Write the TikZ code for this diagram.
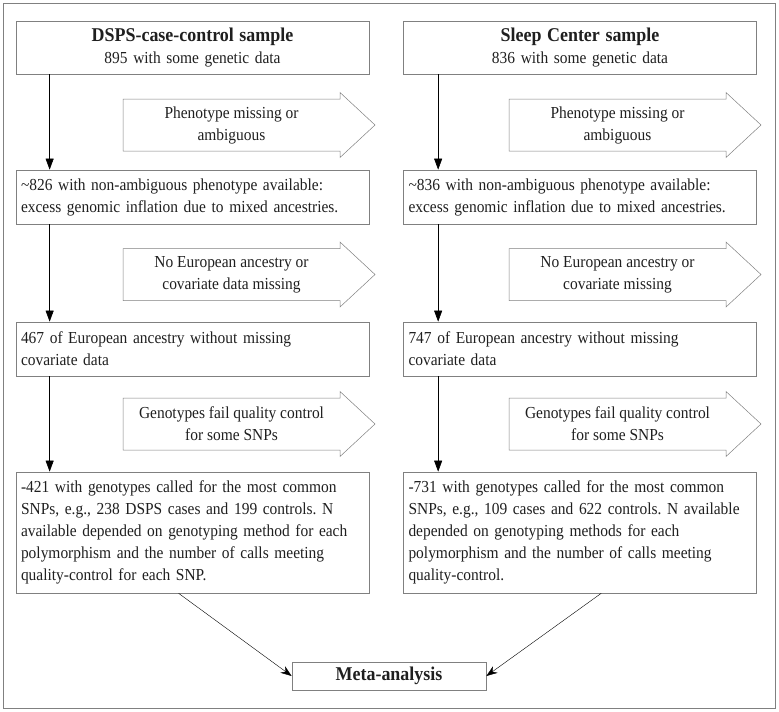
\documentclass[tikz,border=0pt]{standalone}
\usepackage{fontspec}
\setmainfont{Liberation Serif}[FakeStretch=0.92]
\usetikzlibrary{arrows.meta}

\definecolor{linegray}{gray}{0.5}
\definecolor{inkgray}{gray}{0.12}

\def \bodyFont {\fontsize{16.8}{22}\selectfont\frenchspacing\hyphenpenalty=10000}
\def \titleFont {\fontsize{19.5}{22}\selectfont\bfseries}

\tikzset{
  stage/.style={draw=linegray, line width=0.7pt, text=inkgray, font=\bodyFont,
    inner xsep=5pt, inner ysep=3pt, text width=343pt, align=left},
  headstage/.style={stage, align=center},
  exclusion/.style={draw=linegray, line width=0.5pt},
  exclusiontext/.style={text=inkgray, font=\bodyFont, align=center},
  flow/.style={-{Triangle[length=11pt,width=8pt]}, line width=0.6pt, black},
  joinflow/.style={-{Stealth[length=11pt,width=8pt]}, line width=0.4pt, black}
}

\begin{document}
\begin{tikzpicture}[x=1pt,y=1pt]
   \useasboundingbox (0,0) rectangle (779,-712);
   \draw[linegray, line width=0.8pt] (3,-3) rectangle (775,-708);

   % DSPS case-control column
   \node[headstage, minimum height=53pt] (dcc1) at (192.5,-47.5)
      {{\titleFont DSPS-case-control sample}\\895 with some genetic data};
   \node[stage, minimum height=54pt] (dcc2) at (192.5,-197)
      {\textasciitilde826 with non-ambiguous phenotype available:\\excess genomic inflation due to mixed ancestries.};
   \node[stage, minimum height=54pt] (dcc3) at (192.5,-349)
      {467 of European ancestry without missing\\covariate data};
   \node[stage, minimum height=121pt] (dcc4) at (192.5,-532.5)
      {-421 with genotypes called for the most common\\SNPs, e.g., 238 DSPS cases and 199 controls. N\\available depended on genotyping method for each\\polymorphism and the number of calls meeting\\quality-control for each SNP.};

   % Sleep Center column
   \node[headstage, minimum height=53pt] (slc1) at (580,-47.5)
      {{\titleFont Sleep Center sample}\\836 with some genetic data};
   \node[stage, minimum height=54pt] (slc2) at (580,-197)
      {\textasciitilde836 with non-ambiguous phenotype available:\\excess genomic inflation due to mixed ancestries.};
   \node[stage, minimum height=54pt] (slc3) at (580,-349)
      {747 of European ancestry without missing\\covariate data};
   \node[stage, minimum height=121pt] (slc4) at (580,-532.5)
      {-731 with genotypes called for the most common\\SNPs, e.g., 109 cases and 622 controls. N available\\depended on genotyping methods for each\\polymorphism and the number of calls meeting\\quality-control.};

   \node[stage, text width=184pt, align=center, minimum height=28pt] (meta) at (389,-676)
      {\titleFont Meta-analysis};

   % exclusion arrows
   \foreach \x/\y/\n/\t in {
      123/125/dccx1/{Phenotype missing or\\ambiguous},
      123/274.5/dccx2/{No European ancestry or\\covariate data missing},
      123/424/dccx3/{Genotypes fail quality control\\for some SNPs},
      509/125/slcx1/{Phenotype missing or\\ambiguous},
      509/274.5/slcx2/{No European ancestry or\\covariate missing},
      509/424/slcx3/{Genotypes fail quality control\\for some SNPs}} {
      \draw[exclusion] (\x,-\y+26) -- ++(217,0) -- ++(0,6.5) -- ++(35,-32.5)
         -- ++(-35,-32.5) -- ++(0,6.5) -- ++(-217,0) -- cycle;
      \node[exclusiontext] (\n) at (\x+108.5,-\y) {\t};
   }

   \draw[flow] ([xshift=34pt]dcc1.south west) -- ([xshift=34pt]dcc2.north west);
   \draw[flow] ([xshift=34pt]dcc2.south west) -- ([xshift=34pt]dcc3.north west);
   \draw[flow] ([xshift=34pt]dcc3.south west) -- ([xshift=34pt]dcc4.north west);
   \draw[flow] ([xshift=35pt]slc1.south west) -- ([xshift=35pt]slc2.north west);
   \draw[flow] ([xshift=35pt]slc2.south west) -- ([xshift=35pt]slc3.north west);
   \draw[flow] ([xshift=35pt]slc3.south west) -- ([xshift=35pt]slc4.north west);

   \draw[joinflow] ([xshift=163pt]dcc4.south west) -- (meta.west);
   \draw[joinflow] ([xshift=198pt]slc4.south west) -- (meta.east);
\end{tikzpicture}
\end{document}
